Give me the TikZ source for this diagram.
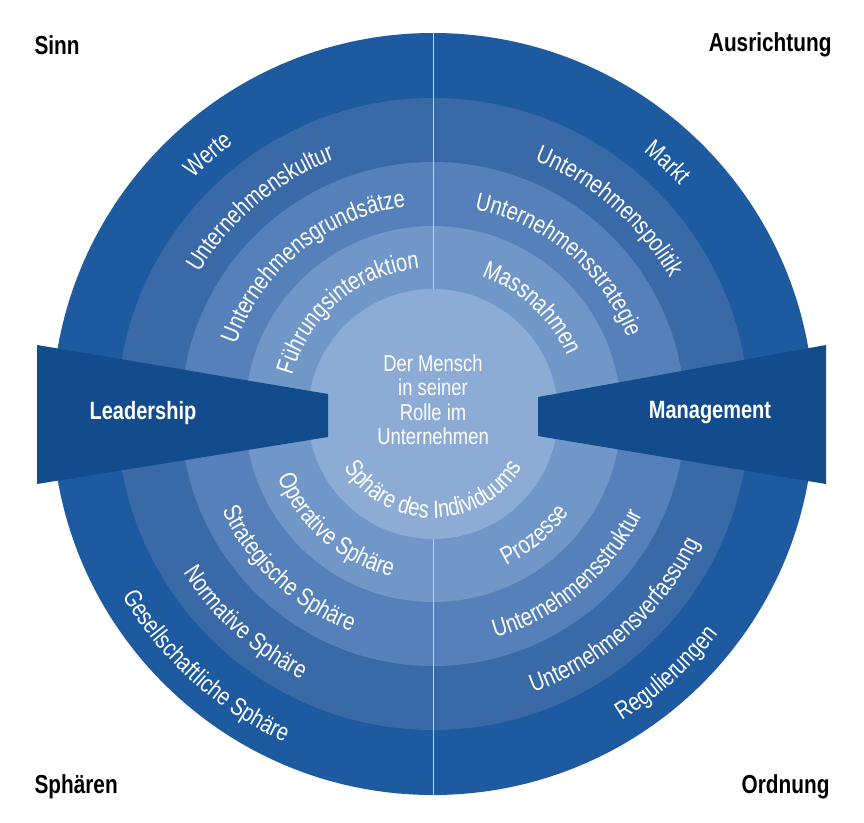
\documentclass[tikz,border=0pt]{standalone}
\usepackage{fontspec}
\setmainfont{Liberation Sans}[FakeStretch=0.8]
\usetikzlibrary{calc,decorations.text}
\definecolor{wedgeblue}{HTML}{124C8C}
\definecolor{ringa}{HTML}{1D5AA0}
\definecolor{ringb}{HTML}{3A69A8}
\definecolor{ringc}{HTML}{5680B9}
\definecolor{ringd}{HTML}{7097C8}
\definecolor{core}{HTML}{8CACD6}
\newcommand\ringfont{\color{white}\fontsize{25}{25}\selectfont}
\tikzset{
  ringtext/.style={decorate, decoration={text along path, text align=center, text={|\ringfont|#1}}},
  corner/.style={font=\bfseries\fontsize{26}{26}\selectfont},
  wedgelabel/.style={font=\bfseries\fontsize{25}{25}\selectfont, text=white}
}
% top labels run clockwise, bottom labels counter-clockwise
\newcommand\toplabel[3]{\path[ringtext={#3}] ($(c)+(#1+60:#2)$) arc[start angle=#1+60, end angle=#1-60, radius=#2];}
\newcommand\botlabel[3]{\path[ringtext={#3}] ($(c)+(#1-60:#2)$) arc[start angle=#1-60, end angle=#1+60, radius=#2];}
\begin{document}
\begin{tikzpicture}[x=1pt,y=1pt]
    \fill[white] (0,0) rectangle (864,-822);
    \useasboundingbox (0,0) rectangle (864,-822);
    \coordinate (c) at (433,-414);

    % rings
    \fill[ringa] (c) circle[radius=381];
    \fill[ringb] (c) circle[radius=316];
    \fill[ringc] (c) circle[radius=252];
    \fill[ringd] (c) circle[radius=188];
    \fill[core] (c) circle[radius=125];
    \draw[white!70!ringb, line width=0.6pt] ($(c)+(0,381)$) -- ($(c)+(0,125)$);
    \draw[white!70!ringb, line width=0.6pt] ($(c)+(0,-125)$) -- ($(c)+(0,-381)$);

    % wedges
    \fill[wedgeblue] (37,-345) -- (328,-394) -- (328,-437) -- (37,-484) -- cycle;
    \fill[wedgeblue] (826,-345) -- (538,-397) -- (538,-436) -- (826,-484) -- cycle;
    \node[wedgelabel] (lead) at (143,-413) {Leadership};
    \node[wedgelabel] (mgmt) at (710,-413) {Management};

    \node[align=center, text=white, font=\fontsize{23}{24.5}\selectfont] (mensch) at (433,-400)
        {Der Mensch\\in seiner\\Rolle im\\Unternehmen};

    \toplabel{131}{336}{Werte}
    \toplabel{130}{273}{Unternehmenskultur}
    \toplabel{129}{209}{Unternehmensgrundsätze}
    \toplabel{130}{146}{Führungsinteraktion}
    \toplabel{47}{336}{Markt}
    \toplabel{49}{273}{Unternehmenspolitik}
    \toplabel{50}{209}{Unternehmensstrategie}
    \toplabel{47}{146}{Massnahmen}

    \botlabel{228}{360}{Gesellschaftliche Sphäre}
    \botlabel{228}{296}{Normative Sphäre}
    \botlabel{227}{232}{Strategische Sphäre}
    \botlabel{229}{168}{Operative Sphäre}
    \botlabel{270}{104}{Sphäre des Individuums}
    \botlabel{312}{360}{Regulierungen}
    \botlabel{312}{296}{Unternehmensverfassung}
    \botlabel{310}{232}{Unternehmensstruktur}
    \botlabel{310}{168}{Prozesse}

    \node[corner, anchor=west] (sinn) at (31,-45) {Sinn};
    \node[corner, anchor=east] (ausr) at (835,-45) {Ausrichtung};
    \node[corner, anchor=west] (sphaeren) at (31,-787) {Sphären};
    \node[corner, anchor=east] (ordn) at (833,-787) {Ordnung};
\end{tikzpicture}
\end{document}
